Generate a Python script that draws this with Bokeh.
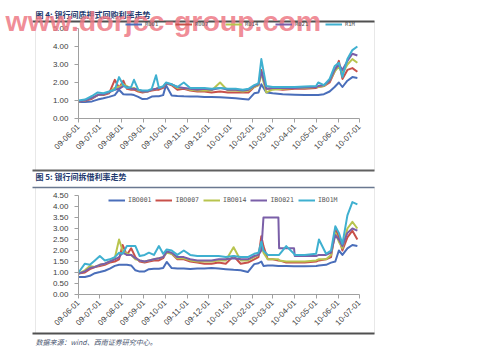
import math
import datetime as dt
from bokeh.plotting import figure
from bokeh.models import (LinearAxis, FixedTicker, DatetimeTickFormatter, NumeralTickFormatter,
                          Range1d, Legend, LegendItem, Label, BoxAnnotation)
from bokeh.embed import file_html
from bokeh.resources import INLINE

# ---------------- data ----------------
title1 = "图 4: 银行间质押式回购利率走势"
title2 = "图 5: 银行间拆借利率走势"
source_text = "数据来源：wind、西南证券研究中心。"
watermark = "www.dorjcc-group.com"

tick_dates = ["2009-06-01", "2009-07-01", "2009-08-01", "2009-09-01", "2009-10-01", "2009-11-01",
              "2009-12-01", "2010-01-01", "2010-02-01", "2010-03-01", "2010-04-01", "2010-05-01",
              "2010-06-01", "2010-07-01"]
y_ticks1 = [0, 1, 2, 3, 4, 5]
y_ticks2 = [0, 0.5, 1, 1.5, 2, 2.5, 3, 3.5, 4, 4.5]

names1 = ["R001", "R007", "R014", "R021", "R1M"]
dates1 = ["2009-06-01", "2009-06-10", "2009-06-20", "2009-06-28",
          "2009-07-06", "2009-07-14", "2009-07-22", "2009-07-28",
          "2009-08-03", "2009-08-08", "2009-08-14", "2009-08-18", "2009-08-24", "2009-08-30",
          "2009-09-06", "2009-09-12", "2009-09-18", "2009-09-22", "2009-09-28",
          "2009-10-02", "2009-10-10", "2009-10-18", "2009-10-27",
          "2009-11-05", "2009-11-15", "2009-11-25",
          "2009-12-05", "2009-12-17", "2009-12-28",
          "2010-01-08", "2010-01-18", "2010-01-26",
          "2010-02-03", "2010-02-09", "2010-02-13", "2010-02-20",
          "2010-03-01", "2010-03-15",
          "2010-04-01", "2010-04-15",
          "2010-05-01", "2010-05-04", "2010-05-12", "2010-05-20", "2010-05-27",
          "2010-06-02", "2010-06-07", "2010-06-14", "2010-06-21", "2010-06-28"]
r001 = [0.92, 0.92, 0.95, 1.05, 1.12, 1.2, 1.3, 1.6, 1.35, 1.33, 1.33, 1.3, 1.2, 1.08,
        1.1, 1.22, 1.24, 1.24, 1.3, 1.85, 1.28, 1.25, 1.23, 1.22, 1.22, 1.2, 1.2, 1.18, 1.15,
        1.12, 1.08, 1.05, 1.4, 1.45, 1.9, 1.45, 1.4, 1.35, 1.32, 1.3,
        1.3, 1.3, 1.35, 1.5, 1.75, 2.0, 1.75, 2.1, 2.3, 2.25]
r007 = [0.95, 0.98, 1.1, 1.3, 1.3, 1.4, 2.15, 1.7, 2.1, 1.65, 1.6, 1.6, 1.5, 1.45,
        1.5, 1.55, 1.6, 1.6, 1.7, 1.95, 1.85, 1.6, 1.65, 1.55, 1.5, 1.5, 1.45, 1.5, 1.45,
        1.45, 1.45, 1.45, 1.75, 1.85, 2.7, 1.65, 1.65, 1.6, 1.65, 1.65,
        1.7, 1.75, 1.8, 2.0, 2.6, 3.2, 2.2, 2.7, 2.8, 2.6]
r014 = [0.95, 1.0, 1.15, 1.3, 1.35, 1.45, 1.7, 1.75, 1.9, 1.8, 1.65, 1.7, 1.55, 1.5,
        1.5, 1.6, 1.65, 1.7, 1.75, 1.95, 1.9, 1.7, 1.7, 1.6, 1.55, 1.55, 1.55, 2.0, 1.55,
        1.55, 1.5, 1.55, 1.75, 1.85, 2.5, 1.45, 1.6, 1.65, 1.7, 1.7,
        1.75, 1.75, 1.8, 2.1, 2.6, 2.9, 2.5, 3.0, 3.3, 3.1]
r021 = [0.95, 1.0, 1.15, 1.3, 1.35, 1.45, 1.6, 1.65, 1.8, 1.75, 1.65, 1.65, 1.6, 1.5,
        1.5, 1.6, 1.65, 1.7, 1.75, 1.95, 1.9, 1.75, 1.7, 1.65, 1.6, 1.65, 1.6, 1.7, 1.6,
        1.6, 1.55, 1.6, 1.8, 1.9, 2.6, 1.65, 1.7, 1.7, 1.7, 1.72,
        1.75, 1.8, 1.85, 2.1, 2.7, 3.0, 2.7, 3.2, 3.6, 3.5]
r1m = [1.0, 1.05, 1.25, 1.45, 1.4, 1.5, 1.6, 2.3, 1.85, 1.7, 1.75, 2.15, 1.6, 1.55,
       1.55, 1.65, 2.4, 1.7, 1.8, 2.0, 1.9, 1.75, 2.0, 1.7, 1.7, 1.7, 1.65, 1.7, 1.65,
       1.65, 1.6, 1.65, 1.85, 1.95, 3.3, 1.8, 1.75, 1.75, 1.75, 1.78,
       1.8, 2.0, 1.85, 2.2, 2.9, 3.1, 2.3, 3.3, 3.8, 4.0]

names2 = ["IBO001", "IBO007", "IBO014", "IBO021", "IBO1M"]
dates2 = ["2009-06-01", "2009-06-10", "2009-06-17", "2009-06-24",
          "2009-07-01", "2009-07-08", "2009-07-15", "2009-07-22", "2009-07-28",
          "2009-08-02", "2009-08-08", "2009-08-14", "2009-08-20", "2009-08-26",
          "2009-09-02", "2009-09-08", "2009-09-15", "2009-09-22", "2009-09-28",
          "2009-10-03", "2009-10-10", "2009-10-18", "2009-10-27",
          "2009-11-05", "2009-11-15", "2009-11-25",
          "2009-12-05", "2009-12-15", "2009-12-25",
          "2010-01-05", "2010-01-15", "2010-01-25",
          "2010-02-03", "2010-02-09", "2010-02-13", "2010-02-16", "2010-02-22",
          "2010-03-01", "2010-03-09", "2010-03-10", "2010-03-20", "2010-03-31",
          "2010-04-01", "2010-04-15",
          "2010-05-01", "2010-05-05", "2010-05-15", "2010-05-22", "2010-05-28",
          "2010-06-02", "2010-06-07", "2010-06-14", "2010-06-21", "2010-06-28"]
ibo001 = [0.8, 0.8, 0.85, 0.97, 1.02, 1.08, 1.18, 1.3, 1.35, 1.35, 1.35, 1.32, 1.1, 1.04,
          1.05, 1.15, 1.17, 1.17, 1.2, 1.48, 1.2, 1.18, 1.18, 1.16, 1.18, 1.18,
          1.2, 1.18, 1.15, 1.12, 1.1, 1.02, 1.38, 1.42, 1.5, 1.3, 1.32,
          1.32, 1.3, 1.3, 1.3, 1.28, 1.28, 1.28, 1.3, 1.32, 1.35, 1.45, 1.5,
          2.0, 1.8, 2.1, 2.25, 2.2]
ibo007 = [0.95, 1.0, 1.15, 1.25, 1.3, 1.35, 1.45, 1.5, 1.6, 2.25, 1.8, 2.1, 1.7, 1.5,
          1.45, 1.5, 1.55, 1.55, 1.65, 1.95, 1.85, 1.6, 1.6, 1.5, 1.45, 1.4,
          1.4, 1.45, 1.4, 1.75, 1.4, 1.45, 1.6, 1.7, 2.65, 2.2, 1.6,
          1.6, 1.55, 1.55, 1.45, 1.45, 1.45, 1.45, 1.5, 1.55, 1.6, 1.7, 3.0,
          2.6, 2.0, 2.6, 2.9, 2.5]
ibo014 = [0.95, 1.1, 1.3, 1.25, 1.35, 1.4, 1.5, 1.65, 2.5, 2.0, 1.85, 1.8, 1.6, 1.55,
          1.5, 1.55, 1.6, 1.65, 1.7, 1.9, 1.85, 1.65, 1.65, 1.55, 1.5, 1.5,
          1.5, 1.55, 1.55, 2.15, 1.55, 1.55, 1.7, 1.8, 2.3, 1.9, 1.6,
          1.6, 1.6, 1.55, 1.5, 1.5, 1.5, 1.5, 1.55, 1.6, 1.6, 1.8, 2.8,
          2.4, 2.1, 3.0, 3.3, 3.0]
ibo021 = [0.95, 1.05, 1.2, 1.25, 1.35, 1.4, 1.5, 1.6, 1.7, 1.9, 1.8, 1.8, 1.65, 1.55,
          1.5, 1.55, 1.6, 1.65, 1.7, 1.95, 1.9, 1.7, 1.7, 1.6, 1.55, 1.55,
          1.55, 1.6, 1.6, 1.65, 1.6, 1.6, 1.75, 1.8, 2.0, 3.5, 3.5,
          3.5, 3.5, 2.1, 2.1, 2.1, 1.75, 1.75, 1.75, 1.8, 1.8, 1.9, 2.7,
          2.5, 2.2, 2.8, 3.0, 2.9]
ibo1m = [1.0, 1.4, 1.35, 1.55, 1.75, 1.55, 1.6, 1.7, 1.9, 1.85, 2.2, 2.2, 2.2, 1.75,
         1.8, 1.9, 1.8, 2.2, 1.85, 2.05, 2.0, 1.8, 2.0, 1.8, 1.75, 1.75,
         1.75, 1.75, 1.7, 1.75, 1.7, 1.7, 1.85, 1.9, 2.4, 2.0, 1.8,
         1.8, 1.8, 1.8, 2.2, 1.85, 1.8, 1.8, 1.85, 2.5, 1.85, 2.0, 3.1,
         2.8, 2.3, 3.6, 4.2, 4.1]

colors = ["#4A6EBA", "#C8504A", "#B8C44E", "#7A5FA8", "#3FB0D0"]

# ---------------- layout helpers ----------------
EPOCH = dt.datetime(1970, 1, 1)


def to_ms(s):
    return (dt.datetime.strptime(s, "%Y-%m-%d") - EPOCH).total_seconds() * 1000.0


W, H = 499, 353
X0 = to_ms(tick_dates[0])
X1 = to_ms(tick_dates[-1])
AX_L, AX_R = 78, 359
PPMS = (AX_R - AX_L) / (X1 - X0)

# chart 1 : value 0 at pixel row 118, value 5 at row 28
Z1, T1, M1 = 118, 28, 5.0
PPU1 = (Z1 - T1) / M1
# chart 2 : value 0 at pixel row 294, value 4.5 at row 195
Z2, T2, M2 = 294, 195, 4.5
PPU2 = (Z2 - T2) / M2


def px2x(px):
    return X0 + (px - AX_L) / PPMS


def py1(py):
    return (Z1 - py) / PPU1


def py2(py):
    return (Z2 - py) / PPU2


FONT = "Liberation Sans"
CJK = "Noto Sans CJK SC"

p = figure(width=W, height=H, output_backend="svg", toolbar_location=None,
           x_axis_location=None, y_axis_location=None, title=None,
           x_range=Range1d(px2x(0), px2x(W)),
           y_range=Range1d(py1(H), py1(0)), min_border=0)
p.extra_y_ranges = {"c2": Range1d(py2(H), py2(0))}
for g in p.grid:
    g.visible = False
p.background_fill_color = "white"
p.border_fill_color = "white"
p.outline_line_color = None

# chart boxes (decoration)
p.add_layout(BoxAnnotation(left=px2x(35), right=px2x(374), top=py1(21), bottom=py1(170),
                           fill_alpha=0, line_color="#b4b4b4", line_width=1))
p.add_layout(BoxAnnotation(left=px2x(35), right=px2x(374), top=py1(187), bottom=py1(333),
                           fill_alpha=0, line_color="#b4b4b4", line_width=1))
for top, bot, col in [(20, 22, "#505050"), (169, 171, "#606060"),
                      (186.3, 187.7, "#6A7890"), (332, 334, "#505050")]:
    p.add_layout(BoxAnnotation(left=px2x(32), right=px2x(374), top=py1(top), bottom=py1(bot),
                               fill_color=col, fill_alpha=1, line_color=None))


def style_axis(ax):
    ax.axis_line_color = "#a0a0a0"
    ax.major_tick_line_color = "#a0a0a0"
    ax.minor_tick_line_color = None
    ax.major_tick_in = 0
    ax.major_tick_out = 4
    ax.major_label_text_font = FONT
    ax.major_label_text_font_size = "8px"
    ax.major_label_text_color = "#404040"
    ax.major_label_standoff = 3


def add_chart(dates, series, names, yticks, ymax, rng, leg_x, leg_top, leg_font, leg_spacing):
    xs = [to_ms(d) for d in dates]
    rs = []
    for vals, c in zip(series, colors):
        kw = {} if rng is None else {"y_range_name": rng}
        rs.append(p.line(xs, vals, line_color=c, line_width=2, line_join="round", **kw))
    kw = {} if rng is None else {"y_range_name": rng}
    yax = LinearAxis(fixed_location=X0, bounds=(0, ymax), ticker=FixedTicker(ticks=yticks),
                     formatter=NumeralTickFormatter(format="0.00"), **kw)
    xax = LinearAxis(fixed_location=0, bounds=(X0, X1),
                     ticker=FixedTicker(ticks=[to_ms(d) for d in tick_dates]),
                     formatter=DatetimeTickFormatter(days="%y-%m-%d", months="%y-%m-%d",
                                                     years="%y-%m-%d", hours="%y-%m-%d",
                                                     context=None),
                     major_label_orientation=math.pi / 4, **kw)
    style_axis(yax)
    style_axis(xax)
    yax.major_label_standoff = 6
    p.add_layout(yax, "left")
    p.add_layout(xax, "below")
    leg = Legend(items=[LegendItem(label=n, renderers=[r]) for n, r in zip(names, rs)],
                 orientation="horizontal", location=(leg_x, H - leg_top),
                 border_line_color=None, background_fill_alpha=0, padding=0, margin=0,
                 spacing=leg_spacing, glyph_width=17, glyph_height=8, label_height=8,
                 label_width=20, label_standoff=3, label_text_font="DejaVu Sans Mono",
                 label_text_font_size=leg_font, label_text_color="#555555")
    p.add_layout(leg)


add_chart(dates1, [r001, r007, r014, r021, r1m], names1, y_ticks1, M1, None, 125, 28, "5.5px", 10)
add_chart(dates2, [ibo001, ibo007, ibo014, ibo021, ibo1m], names2, y_ticks2, M2, "c2",
          108, 204, "6.5px", 4)

# texts
p.add_layout(Label(x=px2x(35), y=py1(14), text=title1, text_font=CJK, text_font_size="8px",
                   text_font_style="bold", text_color="#1F3A6E", text_baseline="middle"))
p.add_layout(Label(x=px2x(35), y=py1(176), text=title2, text_font=CJK, text_font_size="8px",
                   text_font_style="bold", text_color="#1F3A6E", text_baseline="middle"))
p.add_layout(Label(x=px2x(35), y=py1(341), text=source_text, text_font=CJK,
                   text_font_size="7px", text_font_style="italic", text_color="#4A5670",
                   text_baseline="middle"))
p.add_layout(Label(x=px2x(5), y=py1(20.5), text=watermark, text_font=FONT,
                   text_font_size="28.5px", text_font_style="bold", text_color="#EE7A86",
                   text_alpha=0.85, text_baseline="alphabetic"))

open("out.html", "w").write(file_html(p, INLINE))
